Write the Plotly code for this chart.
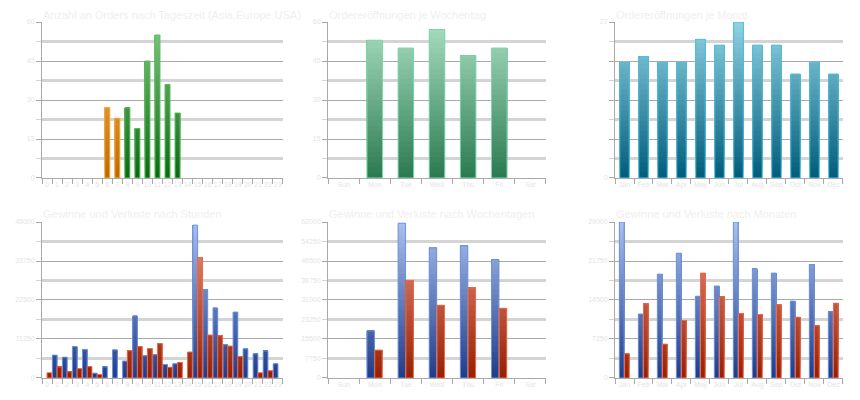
import plotly.graph_objects as go

# categories
hours = [str(h) for h in range(24)]
weekdays = ["Sun", "Mon", "Tue", "Wed", "Thu", "Fri", "Sat"]
months = ["Jan", "Feb", "Mar", "Apr", "May", "Jun",
          "Jul", "Aug", "Sep", "Oct", "Nov", "Dec"]

# order counts
orders_by_hour = [0, 0, 0, 0, 0, 0, 27, 23, 27, 19, 45, 55,
                  36, 25, 0, 0, 0, 0, 0, 0, 0, 0, 0, 0]
hour_session = ["Asia"] * 8 + ["Europe"] * 6 + ["USA"] * 10
orders_by_weekday = [0, 53, 50, 57, 47, 50, 0]
orders_by_month = [20, 21, 20, 20, 24, 23, 27, 23, 23, 18, 20, 18]

# profits (blue) and losses (red)
profit_by_hour = [0, 6600, 6000, 9000, 8200, 1400, 3200, 8100, 4900, 17900, 6400, 6700,
                  3900, 4100, 0, 44100, 25500, 20200, 9600, 19000, 8400, 7000, 7800, 4100]
loss_by_hour = [1500, 3200, 1800, 2700, 3300, 1000, 0, 0, 7900, 9100, 8500, 9900,
                3100, 4500, 7500, 34700, 12400, 12200, 9200, 6200, 0, 1500, 2100, 0]
profit_by_weekday = [0, 18700, 61500, 51700, 52500, 47000, 0]
loss_by_weekday = [0, 11100, 38800, 28900, 35800, 27700, 0]
profit_by_month = [29000, 11900, 19300, 23200, 15200, 17100,
                   29000, 20300, 19500, 14300, 21100, 12300]
loss_by_month = [4500, 13800, 6300, 10700, 19500, 15100,
                 12000, 11800, 13600, 11300, 9700, 13900]

titles = [
    "Anzahl an Orders nach Tageszeit (Asia,Europe,USA)",
    "Ordereröffnungen je Wochentag",
    "Ordereröffnungen je Monat",
    "Gewinne und Verluste nach Stunden",
    "Gewinne und Verluste nach Wochentagen",
    "Gewinne und Verluste nach Monaten",
]

AXIS = "#a9a9a9"
GRID_LIGHT = "#d4d4d4"
TEXT = "#e4e4e4"
TITLE = "#efefef"
FONT = "Liberation Sans"
N_BANDS = 30

# (dark bottom, light top, outline)
GREEN = ((11, 104, 18), (130, 200, 130), "#5cbf5c")
ORANGE = ((190, 104, 0), (255, 196, 100), "#f5b041")
MINT = ((42, 122, 80), (170, 222, 194), "#80d8a8")
TEAL = ((0, 92, 122), (146, 210, 226), "#4ec3e0")
BLUE = ((30, 60, 136), (170, 193, 238), "#6f94e4")
RED = ((149, 32, 0), (236, 150, 130), "#f06a50")

session_style = {"Asia": ORANGE, "Europe": GREEN, "USA": BLUE}


def mix(c0, c1, t):
    return "#%02x%02x%02x" % tuple(round(a + (b - a) * t) for a, b in zip(c0, c1))


def gradient_bars(fig, n, cats, values, ymax, styles, offset, width):
    # vertical gradient faked with bands; each band runs up to the bar top and
    # the next one is painted over it, so no seams show
    for k in range(N_BANDS):
        lo = ymax * k / N_BANDS
        h = [v - lo if v > lo else None for v in values]
        t = (k + 0.5) / N_BANDS
        fig.add_trace(go.Bar(
            x=cats, y=h, base=lo, offset=offset, width=width,
            marker=dict(color=[mix(s[0], s[1], t) for s in styles], line_width=0),
            xaxis=f"x{n}", yaxis=f"y{n}", hoverinfo="skip", showlegend=False))
    fig.add_trace(go.Bar(
        x=cats, y=[v if v else None for v in values], offset=offset, width=width,
        marker=dict(color="rgba(0,0,0,0)", line=dict(color=[s[2] for s in styles], width=1)),
        xaxis=f"x{n}", yaxis=f"y{n}", showlegend=False))


fig = go.Figure()

# top row
gradient_bars(fig, 1, hours, orders_by_hour, 60,
              [session_style[s] for s in hour_session], -0.25, 0.5)
gradient_bars(fig, 2, weekdays, orders_by_weekday, 60, [MINT] * 7, -0.25, 0.5)
gradient_bars(fig, 3, months, orders_by_month, 27, [TEAL] * 12, -0.25, 0.5)

# bottom row
gradient_bars(fig, 4, hours, profit_by_hour, 45000, [BLUE] * 24, -0.47, 0.47)
gradient_bars(fig, 4, hours, loss_by_hour, 45000, [RED] * 24, 0, 0.47)
gradient_bars(fig, 5, weekdays, profit_by_weekday, 62000, [BLUE] * 7, -0.25, 0.24)
gradient_bars(fig, 5, weekdays, loss_by_weekday, 62000, [RED] * 7, 0, 0.24)
gradient_bars(fig, 6, months, profit_by_month, 29000, [BLUE] * 12, -0.27, 0.25)
gradient_bars(fig, 6, months, loss_by_month, 29000, [RED] * 12, 0, 0.25)

# invisible trace so the label-only axis of the weekday P/L chart gets drawn
fig.add_trace(go.Scatter(x=weekdays, y=profit_by_weekday, xaxis="x5", yaxis="y7",
                         mode="markers", opacity=0, hoverinfo="skip", showlegend=False))

# page body adds 8px, so the figure is 844x384 and placed at (8, 8)
x_domains = [[0.0403, 0.3258], [0.3792, 0.6374], [0.7192, 0.9893]]
y_domains = [[0.5573, 0.9635], [0.0365, 0.4427]]
title_y = [1.0, 0.482]
panel_cats = [hours, weekdays, months, hours, weekdays, months]
panel_ticks = [
    [0, 15, 30, 45, 60],
    [0, 15, 30, 45, 60],
    [0, 6.75, 13.5, 20.25, 27],
    [0, 11250, 22500, 33750, 45000],
    [0, 15500, 31000, 46500, 62000],
    [0, 7250, 14500, 21750, 29000],
]
panel_ticktext = [
    None, None, ["0", "", "", "", "27"], None, None, None,
]

layout = dict(
    width=844, height=384, margin=dict(l=0, r=0, t=0, b=0, autoexpand=False),
    paper_bgcolor="white", plot_bgcolor="white", barmode="overlay",
    font=dict(family=FONT, color=TEXT, size=7), showlegend=False,
    annotations=[],
)

for i in range(6):
    n = i + 1
    cats = panel_cats[i]
    ticks = panel_ticks[i]
    xd = x_domains[i % 3]
    yd = y_domains[i // 3]
    layout[f"xaxis{n}"] = dict(
        domain=xd, anchor=f"y{n}", type="category",
        categoryorder="array", categoryarray=cats, range=[-0.5, len(cats) - 0.5],
        showline=True, linecolor=AXIS, linewidth=1, showgrid=False,
        ticks="outside", ticklen=5, tickcolor=AXIS, tickson="boundaries",
        tickangle=0, tickfont=dict(size=7, color=TEXT), fixedrange=True)
    layout[f"yaxis{n}"] = dict(
        domain=yd, anchor=f"x{n}", range=[0, ticks[-1]],
        tickmode="array", tickvals=ticks,
        ticktext=panel_ticktext[i] or [str(t) for t in ticks],
        showline=True, linecolor=AXIS, linewidth=1, zeroline=False,
        showgrid=True, gridcolor=AXIS, gridwidth=1,
        ticks="outside", ticklen=5, tickcolor=AXIS,
        minor=dict(tickmode="array",
                   tickvals=[(a + b) / 2 for a, b in zip(ticks, ticks[1:])],
                   showgrid=True, gridcolor=GRID_LIGHT, gridwidth=2.5,
                   ticks="outside", ticklen=5, tickcolor=GRID_LIGHT),
        tickfont=dict(size=7, color=TEXT), fixedrange=True)
    layout["annotations"].append(dict(
        text=titles[i], xref="paper", yref="paper", x=xd[0], y=title_y[i // 3],
        xanchor="left", yanchor="top", showarrow=False, borderpad=0,
        font=dict(family=FONT, size=11, color=TITLE)))

# the weekday P/L chart labels every grid line, not only the dark ones
labels_5 = [0, 7750, 15500, 23250, 31000, 38750, 46500, 54250, 62000]
layout["yaxis5"]["showticklabels"] = False
layout["yaxis7"] = dict(
    overlaying="y5", anchor="x5", side="left", range=[0, 62000],
    tickmode="array", tickvals=labels_5, ticktext=[str(v) for v in labels_5],
    showgrid=False, showline=False, zeroline=False,
    ticks="outside", ticklen=5, tickcolor="rgba(0,0,0,0)",
    tickfont=dict(size=7, color=TEXT), fixedrange=True)

fig.update_layout(layout)
fig.write_html("out.html")
